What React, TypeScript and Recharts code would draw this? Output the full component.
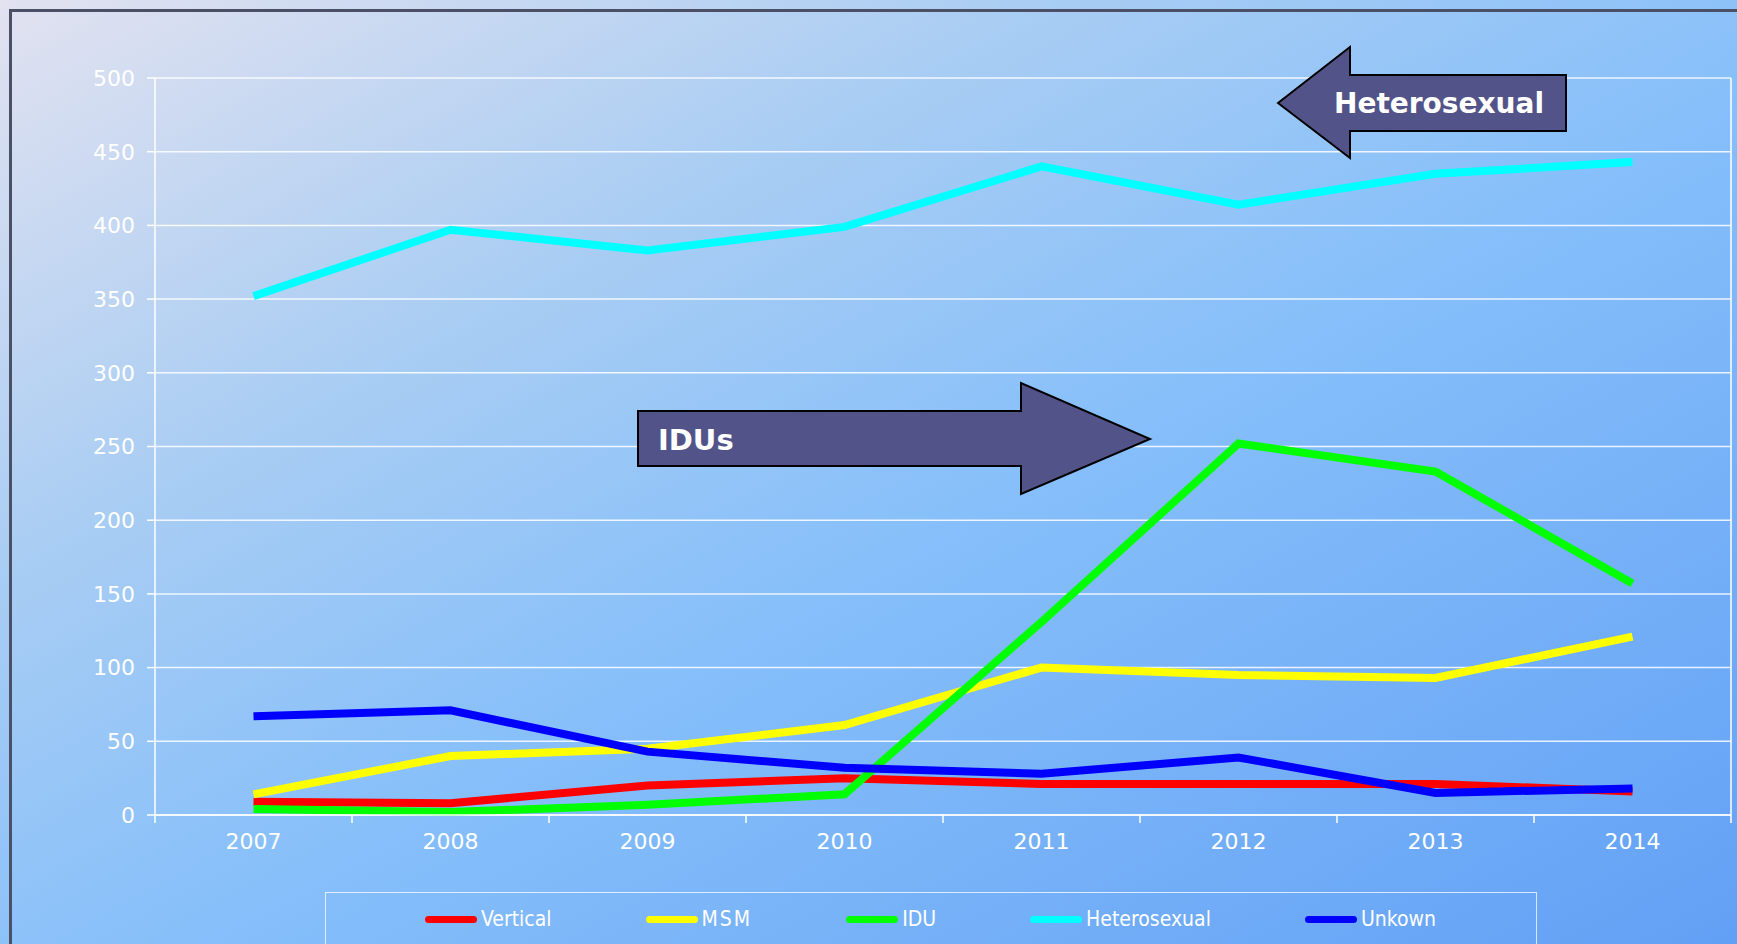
import React from 'react';
import { LineChart, Line, XAxis, YAxis, CartesianGrid } from 'recharts';

const years = ['2007', '2008', '2009', '2010', '2011', '2012', '2013', '2014'];
const vertical = [9, 8, 20, 25, 21, 21, 21, 16];
const msm = [14, 40, 45, 61, 100, 95, 93, 121];
const idu = [4, 2, 7, 14, 131, 252, 233, 157];
const heterosexual = [352, 397, 383, 399, 440, 414, 435, 443];
const unknown = [67, 71, 43, 32, 28, 39, 15, 18];
const yTicks = [0, 50, 100, 150, 200, 250, 300, 350, 400, 450, 500];

const series = [
  { key: 'vertical', name: 'Vertical', color: '#ff0000' },
  { key: 'msm', name: 'MSM', color: '#ffff00' },
  { key: 'idu', name: 'IDU', color: '#00ff00' },
  { key: 'heterosexual', name: 'Heterosexual', color: '#00ffff' },
  { key: 'unknown', name: 'Unkown', color: '#0000ff' },
];

const W = 1737;
const H = 944;
const PLOT_LEFT = 155;
const PLOT_RIGHT = 1731;
const HALF_BAND = (PLOT_RIGHT - PLOT_LEFT) / years.length / 2;

const chartData = years.map((year, i) => ({
  year,
  vertical: vertical[i],
  msm: msm[i],
  idu: idu[i],
  heterosexual: heterosexual[i],
  unknown: unknown[i],
}));

const tickFont = "'DejaVu Sans', Verdana, sans-serif";

const YearTick = (props: any) => {
  const { x, y, payload, index } = props;
  return (
    <g>
      <line x1={x - HALF_BAND} y1={y - 18} x2={x - HALF_BAND} y2={y - 10} stroke="#ffffff" strokeWidth={1.5} />
      {index === years.length - 1 && (
        <line x1={x + HALF_BAND} y1={y - 18} x2={x + HALF_BAND} y2={y - 10} stroke="#ffffff" strokeWidth={1.5} />
      )}
      <text x={x} y={y} dy="0.71em" textAnchor="middle" fill="#ffffff" fontSize={22} fontFamily={tickFont}>
        {payload.value}
      </text>
    </g>
  );
};

const Arrows = () => (
  <svg width={W} height={H} style={{ position: 'absolute', left: 0, top: 0, pointerEvents: 'none' }}>
    {/* Heterosexual arrow, pointing left */}
    <polygon
      points="1278,103 1350,47 1350,75 1566,75 1566,131 1350,131 1350,158"
      fill="#525489"
      stroke="#000000"
      strokeWidth={2}
    />
    <text x={1334} y={113} fill="#ffffff" fontSize={28} fontWeight="bold" fontFamily={tickFont}>
      Heterosexual
    </text>
    {/* IDUs arrow, pointing right */}
    <polygon
      points="638,411 1021,411 1021,383 1150,439 1021,494 1021,466 638,466"
      fill="#525489"
      stroke="#000000"
      strokeWidth={2}
    />
    <text x={658} y={450} fill="#ffffff" fontSize={29} fontWeight="bold" fontFamily={tickFont}>
      IDUs
    </text>
  </svg>
);

const LegendBox = () => (
  <div
    style={{
      position: 'absolute',
      left: 325,
      top: 892,
      width: 1212,
      height: 90,
      border: '1.5px solid rgba(255,255,255,0.75)',
      boxSizing: 'border-box',
      display: 'flex',
      alignItems: 'flex-start',
      paddingLeft: 99,
      paddingTop: 14,
      gap: 94,
    }}
  >
    {series.map((s) => (
      <div key={s.key} style={{ display: 'flex', alignItems: 'center' }}>
        <div style={{ width: 52, height: 7, borderRadius: 4, background: s.color, marginRight: 4 }} />
        <span
          style={{
            color: '#ffffff',
            fontSize: 21,
            fontFamily: "'DejaVu Sans Condensed', 'DejaVu Sans', sans-serif",
            fontStretch: 'condensed',
            lineHeight: '24px',
            letterSpacing: s.name === 'MSM' ? 2 : 0,
          }}
        >
          {s.name}
        </span>
      </div>
    ))}
  </div>
);

export default function App() {
  return (
    <div
      style={{
        position: 'fixed',
        left: 0,
        top: 0,
        width: W,
        height: H,
        overflow: 'hidden',
        background: 'linear-gradient(to bottom right, #e2e2f0 0%, #a9cdf3 30%, #86bffa 55%, #62a0f5 100%)',
      }}
    >
      <div
        style={{
          position: 'absolute',
          left: 9,
          top: 9,
          width: 2000,
          height: 2000,
          borderLeft: '3px solid #4b5066',
          borderTop: '3px solid #4b5066',
        }}
      />
      <div style={{ position: 'absolute', left: 0, top: 0 }}>
        <LineChart width={W} height={H} data={chartData} margin={{ top: 78, right: 0, bottom: 99, left: 0 }}>
          <CartesianGrid vertical={false} stroke="#ffffff" strokeOpacity={0.85} strokeWidth={1.5} yAxisId="left" />
          <XAxis
            dataKey="year"
            height={30}
            padding={{ left: HALF_BAND, right: HALF_BAND }}
            axisLine={{ stroke: '#ffffff', strokeWidth: 1.5 }}
            tickLine={false}
            tickSize={8}
            tickMargin={10}
            tick={<YearTick />}
            interval={0}
          />
          <YAxis
            yAxisId="left"
            width={PLOT_LEFT}
            domain={[0, 500]}
            ticks={yTicks}
            axisLine={{ stroke: '#ffffff', strokeWidth: 1.5 }}
            tickLine={{ stroke: '#ffffff', strokeWidth: 1.5 }}
            tickSize={8}
            tickMargin={12}
            tick={{ fill: '#ffffff', fontSize: 22, fontFamily: tickFont }}
            interval={0}
          />
          <YAxis
            yAxisId="right"
            orientation="right"
            width={W - PLOT_RIGHT}
            domain={[0, 500]}
            tick={false}
            tickLine={false}
            axisLine={{ stroke: '#ffffff', strokeWidth: 1.5 }}
          />
          {series.map((s) => (
            <Line
              key={s.key}
              yAxisId="left"
              type="linear"
              dataKey={s.key}
              name={s.name}
              stroke={s.color}
              strokeWidth={8}
              dot={false}
              isAnimationActive={false}
            />
          ))}
        </LineChart>
      </div>
      <LegendBox />
      <Arrows />
    </div>
  );
}
